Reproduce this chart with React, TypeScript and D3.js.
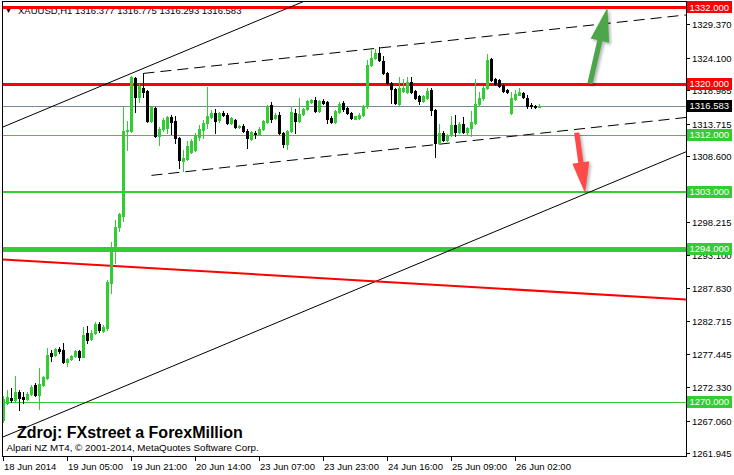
import React from "react";
import * as d3 from "d3";

// ---- data (XAUUSD H1, bar index 0..134) ----
const opens = [
  1267.15, 1269.82, 1270.6, 1270.29, 1271.55, 1270.76, 1270.45, 1271.23, 1272.65, 1271.08,
  1272.65, 1273.75, 1277.68, 1277.36, 1278.31, 1278.15, 1276.26, 1276.74, 1277.21, 1277.99,
  1277.05, 1280.82, 1279.88, 1280.82, 1282.24, 1281.14, 1281.61, 1288.68, 1294.03, 1297.49,
  1299.21, 1312.5, 1312.58, 1320.91, 1317.92, 1319.34, 1318.86, 1314.15, 1316.19, 1311.79,
  1312.89, 1313.05, 1314.78, 1314.15, 1311.48, 1307.86, 1308.18, 1309.28, 1309.59, 1311.63,
  1312.73, 1313.83, 1314.78, 1315.41, 1314.31, 1315.41, 1315.09, 1313.83, 1314.31, 1313.21,
  1313.36, 1312.58, 1311.32, 1312.26, 1312.11, 1312.89, 1313.99, 1316.66, 1314.62, 1315.09,
  1312.26, 1310.53, 1312.58, 1315.41, 1314.15, 1315.25, 1316.04, 1317.14, 1317.45, 1315.72,
  1317.29, 1317.14, 1314.62, 1313.99, 1315.56, 1316.98, 1316.19, 1315.41, 1314.54, 1314.62,
  1315.09, 1316.51, 1322.95, 1324.05, 1324.84, 1323.58, 1321.69, 1320.12, 1319.18, 1316.82,
  1318.86, 1318.71, 1320.28, 1318.86, 1318.08, 1317.29, 1317.76, 1319.02, 1315.88, 1310.69,
  1312.26, 1311.16, 1311.95, 1313.52, 1312.42, 1313.68, 1312.42, 1313.05, 1313.83, 1316.82,
  1317.76, 1319.34, 1323.9, 1320.75, 1320.59, 1319.81, 1319.02, 1315.41, 1317.61, 1318.31,
  1318.55, 1317.84, 1316.66, 1316.51, 1316.377,
];
const highs = [
  1270.92, 1271.86, 1272.18, 1274.06, 1271.86, 1271.55, 1271.55, 1272.65, 1272.96, 1275.32,
  1274.06, 1278.46, 1278.15, 1278.46, 1278.62, 1279.25, 1276.89, 1277.36, 1278.15, 1278.15,
  1281.77, 1281.92, 1281.29, 1282.55, 1282.55, 1282.08, 1289.15, 1295.13, 1298.59, 1299.69,
  1316.35, 1314.15, 1321.22, 1321.07, 1319.97, 1321.69, 1319.02, 1316.51, 1316.35, 1313.21,
  1314.62, 1314.93, 1315.09, 1314.93, 1311.63, 1309.59, 1311.0, 1311.32, 1312.26, 1313.52,
  1314.31, 1319.49, 1315.88, 1316.04, 1315.56, 1315.72, 1315.41, 1314.78, 1314.46, 1313.52,
  1313.68, 1312.89, 1312.58, 1312.58, 1313.21, 1314.31, 1316.66, 1317.14, 1315.41, 1315.56,
  1312.42, 1312.73, 1316.51, 1316.04, 1317.76, 1316.19, 1317.45, 1317.61, 1317.92, 1317.45,
  1317.61, 1317.29, 1314.93, 1315.88, 1317.14, 1317.29, 1316.35, 1315.56, 1314.93, 1315.41,
  1316.66, 1323.74, 1325.47, 1325.47, 1325.78, 1324.37, 1321.85, 1320.28, 1319.34, 1321.07,
  1320.75, 1321.07, 1321.07, 1319.02, 1318.24, 1318.24, 1319.34, 1319.34, 1316.04, 1313.68,
  1312.58, 1312.11, 1314.93, 1315.09, 1313.99, 1314.78, 1313.21, 1315.72, 1320.75, 1318.71,
  1319.65, 1324.68, 1324.05, 1320.91, 1320.75, 1319.97, 1319.18, 1318.71, 1319.02, 1319.34,
  1318.71, 1318.24, 1316.98, 1316.66, 1316.775,
];
const lows = [
  1266.83, 1269.66, 1269.98, 1270.13, 1268.72, 1269.82, 1270.29, 1271.08, 1270.92, 1268.88,
  1272.49, 1273.59, 1276.42, 1277.21, 1277.68, 1276.11, 1275.63, 1276.58, 1277.05, 1276.58,
  1277.0, 1279.25, 1279.72, 1280.67, 1280.98, 1280.98, 1281.29, 1287.11, 1291.83, 1296.86,
  1298.43, 1309.59, 1312.42, 1315.56, 1317.14, 1317.92, 1313.99, 1313.99, 1311.63, 1310.38,
  1312.58, 1312.26, 1312.11, 1310.69, 1306.76, 1306.29, 1308.02, 1309.12, 1309.43, 1311.16,
  1311.48, 1313.05, 1314.62, 1312.26, 1313.99, 1314.93, 1313.68, 1313.68, 1313.05, 1313.05,
  1312.42, 1309.9, 1311.16, 1311.48, 1311.95, 1312.73, 1313.83, 1313.99, 1314.46, 1312.11,
  1310.06, 1309.75, 1312.42, 1312.26, 1313.99, 1315.09, 1315.88, 1316.98, 1315.56, 1315.56,
  1316.82, 1313.83, 1313.83, 1313.83, 1315.41, 1315.72, 1315.25, 1314.46, 1314.46, 1314.46,
  1314.93, 1316.19, 1322.79, 1323.9, 1323.58, 1321.54, 1319.97, 1316.98, 1316.82, 1316.66,
  1318.71, 1318.55, 1318.55, 1317.61, 1316.82, 1317.14, 1317.61, 1315.09, 1308.49, 1310.53,
  1311.0, 1311.0, 1311.79, 1311.79, 1312.26, 1312.26, 1312.11, 1311.79, 1313.68, 1316.66,
  1317.45, 1319.18, 1320.44, 1319.81, 1319.49, 1318.71, 1318.55, 1315.25, 1317.45, 1318.24,
  1317.76, 1316.19, 1316.19, 1316.19, 1316.293,
];
const closes = [
  1270.45, 1270.76, 1270.29, 1271.55, 1270.6, 1270.5, 1271.23, 1272.33, 1271.08, 1272.81,
  1273.91, 1277.36, 1277.21, 1278.31, 1277.99, 1276.26, 1276.74, 1277.21, 1277.99, 1277.05,
  1280.51, 1279.72, 1280.82, 1282.24, 1281.29, 1281.77, 1288.84, 1293.87, 1297.49, 1299.53,
  1312.58, 1312.66, 1321.07, 1317.92, 1319.65, 1318.71, 1314.15, 1316.35, 1311.79, 1312.89,
  1314.31, 1314.78, 1313.99, 1311.48, 1308.02, 1308.33, 1310.22, 1311.0, 1311.79, 1312.89,
  1313.83, 1314.93, 1315.41, 1314.15, 1315.41, 1315.09, 1313.83, 1314.62, 1313.21, 1313.36,
  1312.58, 1311.48, 1312.42, 1312.11, 1312.89, 1314.15, 1316.51, 1314.46, 1315.09, 1312.26,
  1310.53, 1312.58, 1315.56, 1314.15, 1315.25, 1316.04, 1317.29, 1317.45, 1315.72, 1317.29,
  1316.98, 1314.46, 1313.99, 1315.72, 1316.82, 1316.04, 1315.41, 1314.62, 1314.86, 1315.09,
  1316.51, 1322.95, 1324.05, 1324.84, 1323.74, 1321.69, 1320.12, 1319.18, 1316.98, 1319.34,
  1319.34, 1320.28, 1318.71, 1317.76, 1317.29, 1318.08, 1318.86, 1315.88, 1310.69, 1312.26,
  1311.16, 1311.95, 1313.52, 1312.42, 1313.68, 1312.42, 1313.05, 1313.99, 1316.82, 1317.76,
  1319.34, 1323.74, 1320.59, 1319.97, 1319.65, 1318.86, 1318.71, 1317.76, 1318.39, 1318.63,
  1317.92, 1316.58, 1316.43, 1316.35, 1316.583,
];

const timeTickBars = [0, 16, 32, 48, 64, 80, 96, 112, 128];
const timeTickLabels = [
  "18 Jun 2014", "19 Jun 05:00", "19 Jun 21:00", "20 Jun 14:00", "23 Jun 07:00",
  "23 Jun 23:00", "24 Jun 16:00", "25 Jun 09:00", "26 Jun 02:00",
];
const priceTicks = [
  1329.37, 1324.1, 1318.985, 1313.715, 1308.6, 1303.485, 1298.215, 1293.1,
  1287.83, 1282.715, 1277.445, 1272.33, 1267.06, 1261.945,
];

const levelPrices = [1332, 1320, 1312, 1303, 1294, 1270];
const levelColors = ["#ff0000", "#ff0000", "#32cd32", "#32cd32", "#32cd32", "#32cd32"];
const levelWidths = [3, 3, 1, 2, 5, 1];
const bidPrice = 1316.583;

// trend lines: [bar1, price1, bar2, price2]
const trendAnchors = [
  [0, 1313.24, 60, 1328.99],
  [0, 1264.51, 134, 1299.69],
  [35, 1321.63, 134, 1328.34],
  [37, 1305.6, 134, 1312.21],
  [0, 1292.38, 134, 1287.43],
];
const trendColors = ["#000000", "#000000", "#000000", "#000000", "#ff0000"];
const trendWidths = [1, 1, 1, 1, 2];
const trendDashed = [false, false, true, true, false];
const trendFromLeft = [true, true, false, false, true];

// arrows: [tailBar, tailPrice, tipBar, tipPrice]
const arrowAnchors = [
  [146.6, 1320, 151, 1332],
  [143.3, 1312.3, 145.4, 1302.8],
];
const arrowColors = ["#4ea64b", "#ff4a4a"];
const arrowHead = [[34, 9.5], [31, 8.5]];

const headerText = "XAUUSD,H1 1316.377 1316.775 1316.293 1316.583";
const titleText = "Zdroj: FXstreet a ForexMillion";
const copyText = "Alpari NZ MT4, \u00A9 2001-2014, MetaQuotes Software Corp.";

const FONT = "'Liberation Sans', Arial, sans-serif";
const BULL = "#32cd32";
const BEAR = "#000000";

export default function App() {
  const W = 734;
  const H = 475;
  const left = 2.5;
  const right = 686.5;
  const top = 1.5;
  const bottom = 456.5;

  const x = d3.scaleLinear().domain([0, 1]).range([3.5, 7.5]);
  const y = d3.scaleLinear().domain([1261.945, 1332]).range([453.1, 7.44]);

  const candles = opens.map((o, i) => {
    const c = closes[i];
    const up = c >= o;
    const cx = x(i);
    const bt = Math.round(y(Math.max(o, c)));
    const bb = Math.round(y(Math.min(o, c)));
    const wt = Math.round(y(highs[i]));
    const wb = Math.round(y(lows[i]));
    const col = up ? BULL : BEAR;
    return (
      <g key={i}>
        <rect x={cx - 0.5} y={wt} width={1} height={Math.max(1, wb - wt + 1)} fill={col} />
        <rect x={cx - 1.5} y={bt} width={3} height={Math.max(1, bb - bt + 1)} fill={col} />
      </g>
    );
  });

  const lineGen = d3.line();

  const trends = trendAnchors.map((a, k) => {
    const x1 = x(a[0]);
    const y1 = y(a[1]);
    const x2 = x(a[2]);
    const y2 = y(a[3]);
    const m = (y2 - y1) / (x2 - x1);
    const sx = trendFromLeft[k] ? left : x1;
    const ex = right;
    const d = lineGen([
      [sx, y1 + m * (sx - x1)],
      [ex, y1 + m * (ex - x1)],
    ]);
    return (
      <path
        key={k}
        d={d || ""}
        fill="none"
        stroke={trendColors[k]}
        strokeWidth={trendWidths[k]}
        strokeDasharray={trendDashed[k] ? "11,6" : undefined}
      />
    );
  });

  const arrows = arrowAnchors.map((a, k) => {
    const tx = x(a[0]);
    const ty = y(a[1]);
    const px = x(a[2]);
    const py = y(a[3]);
    const len = Math.hypot(px - tx, py - ty);
    const ux = (px - tx) / len;
    const uy = (py - ty) / len;
    const nx = -uy;
    const ny = ux;
    const [hl, hw] = arrowHead[k];
    const sw = 2.6;
    const hx = px - ux * hl;
    const hy = py - uy * hl;
    const pts: [number, number][] = [
      [tx + nx * sw, ty + ny * sw],
      [hx + nx * sw, hy + ny * sw],
      [hx + nx * hw, hy + ny * hw],
      [px, py],
      [hx - nx * hw, hy - ny * hw],
      [hx - nx * sw, hy - ny * sw],
      [tx - nx * sw, ty - ny * sw],
    ];
    const d = (lineGen(pts) || "") + "Z";
    return (
      <g key={k}>
        <path d={d} fill="#000" opacity={0.28} transform="translate(2,2)" filter="url(#blur)" />
        <path d={d} fill={arrowColors[k]} />
      </g>
    );
  });

  const levelBoxes = levelPrices.map((p, k) => {
    const yy = y(p);
    return (
      <g key={k}>
        <rect x={687} y={Math.round(yy) - 6} width={45} height={12} fill={levelColors[k]} />
        <text x={689.5} y={yy + 3.3} fontSize={9.5} fill="#ffffff" fontFamily={FONT}>
          {p.toFixed(3)}
        </text>
      </g>
    );
  });

  return (
    <div style={{ position: "absolute", left: 0, top: 0 }}>
      <svg width={W} height={H} style={{ display: "block", background: "#fff" }}>
        <defs>
          <clipPath id="plot">
            <rect x={left + 0.5} y={top + 0.5} width={right - left - 1} height={bottom - top - 1} />
          </clipPath>
          <filter id="blur" x="-20%" y="-20%" width="140%" height="140%">
            <feGaussianBlur stdDeviation={1.5} />
          </filter>
        </defs>
        <rect x={0} y={0} width={W} height={H} fill="#ffffff" />

        <g clipPath="url(#plot)">
          {/* header */}
          <text x={5} y={13} fontSize={7} fontFamily={FONT} fill="#000">▼</text>
          <text x={18} y={14} fontSize={9.5} fontFamily={FONT} fill="#000">{headerText}</text>

          {/* bid line */}
          <line x1={left} x2={right} y1={Math.round(y(bidPrice)) + 0.5} y2={Math.round(y(bidPrice)) + 0.5} stroke="#778899" strokeWidth={1} />

          {/* levels */}
          {levelPrices.map((p, k) => {
            const w = levelWidths[k];
            const yy = Math.round(y(p)) + (w % 2 === 1 ? 0.5 : 0);
            return <line key={k} x1={left} x2={right} y1={yy} y2={yy} stroke={levelColors[k]} strokeWidth={w} />;
          })}

          {trends}
          {candles}
          {arrows}

          <text x={17} y={437.5} fontSize={16} fontWeight="bold" fontFamily={FONT} fill="#000">{titleText}</text>
          <text x={6.5} y={451} fontSize={9.8} fontFamily={FONT} fill="#000">{copyText}</text>
        </g>

        {/* frame */}
        <rect x={left} y={top} width={right - left} height={bottom - top} fill="none" stroke="#000" strokeWidth={1} />

        {/* price axis */}
        {priceTicks.map((p, k) => {
          const yy = Math.round(y(p)) + 0.5;
          return (
            <g key={k}>
              <line x1={right} x2={690} y1={yy} y2={yy} stroke="#000" />
              <text x={692} y={yy + 3.3} fontSize={9.5} fontFamily={FONT} fill="#000">{p.toFixed(3)}</text>
            </g>
          );
        })}
        {levelBoxes}
        <rect x={687} y={Math.round(y(bidPrice)) - 6} width={45} height={12} fill="#000" />
        <text x={689.5} y={y(bidPrice) + 3.3} fontSize={9.5} fill="#fff" fontFamily={FONT}>{bidPrice.toFixed(3)}</text>

        {/* time axis */}
        {timeTickBars.map((b, k) => {
          const xx = Math.round(x(b)) - 0.5;
          return (
            <g key={k}>
              <line x1={xx} x2={xx} y1={bottom} y2={461} stroke="#000" />
              <text x={xx + 0.5} y={469.5} fontSize={9.5} fontFamily={FONT} fill="#000">{timeTickLabels[k]}</text>
            </g>
          );
        })}
      </svg>
    </div>
  );
}
